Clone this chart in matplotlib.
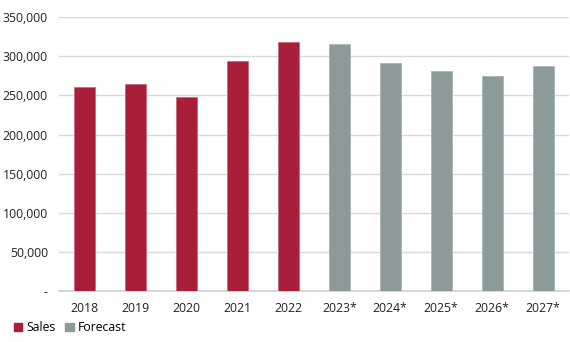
import numpy as np
import matplotlib.pyplot as plt
from matplotlib.patches import Patch
from matplotlib.ticker import FuncFormatter

plt.rcParams['font.family'] = ['Open Sans', 'DejaVu Sans']

# data
years = ['2018', '2019', '2020', '2021', '2022', '2023*', '2024*', '2025*', '2026*', '2027*']
sales = [261000, 265000, 248000, 294000, 318000]
forecast = [315500, 291000, 281000, 275000, 287000]

red = '#A91F3A'
grey = '#8C9A9A'

fig = plt.figure(figsize=(5.7, 3.42), dpi=100)
ax = fig.add_axes([0.1035, 0.149, 0.894, 0.801])

x = np.arange(len(years))
n_sales = len(sales)
ax.bar(x[:n_sales], sales, width=0.41, color=red, edgecolor='#c96a7c', linewidth=0.6, zorder=3)
ax.bar(x[n_sales:], forecast, width=0.41, color=grey, edgecolor='#aab5b5', linewidth=0.6, zorder=3)

ax.set_xlim(-0.5, len(years) - 0.5)
ax.set_ylim(0, 350000)
ax.set_yticks(np.arange(0, 350001, 50000))
ax.yaxis.set_major_formatter(FuncFormatter(lambda v, p: '-' if v == 0 else f'{int(v):,}'))
ax.set_xticks(x)
ax.set_xticklabels(years)

ax.grid(axis='y', color='#d9d9d9', linewidth=1, zorder=0)
for s in ['top', 'right', 'left']:
    ax.spines[s].set_visible(False)
ax.spines['bottom'].set_color('#d0d0d0')
ax.spines['bottom'].set_linewidth(1.2)
ax.tick_params(axis='both', length=0, labelsize=8.8, colors='#222222')
ax.tick_params(axis='y', pad=8)
ax.tick_params(axis='x', pad=8)

handles = [Patch(color=red, label='Sales'), Patch(color=grey, label='Forecast')]
fig.legend(handles=handles, loc='lower left', bbox_to_anchor=(0.005, -0.01), ncol=2,
           frameon=False, fontsize=8.8, handlelength=0.7, handleheight=0.7,
           handletextpad=0.3, columnspacing=0.8)

fig.savefig('out.png', dpi=100)
